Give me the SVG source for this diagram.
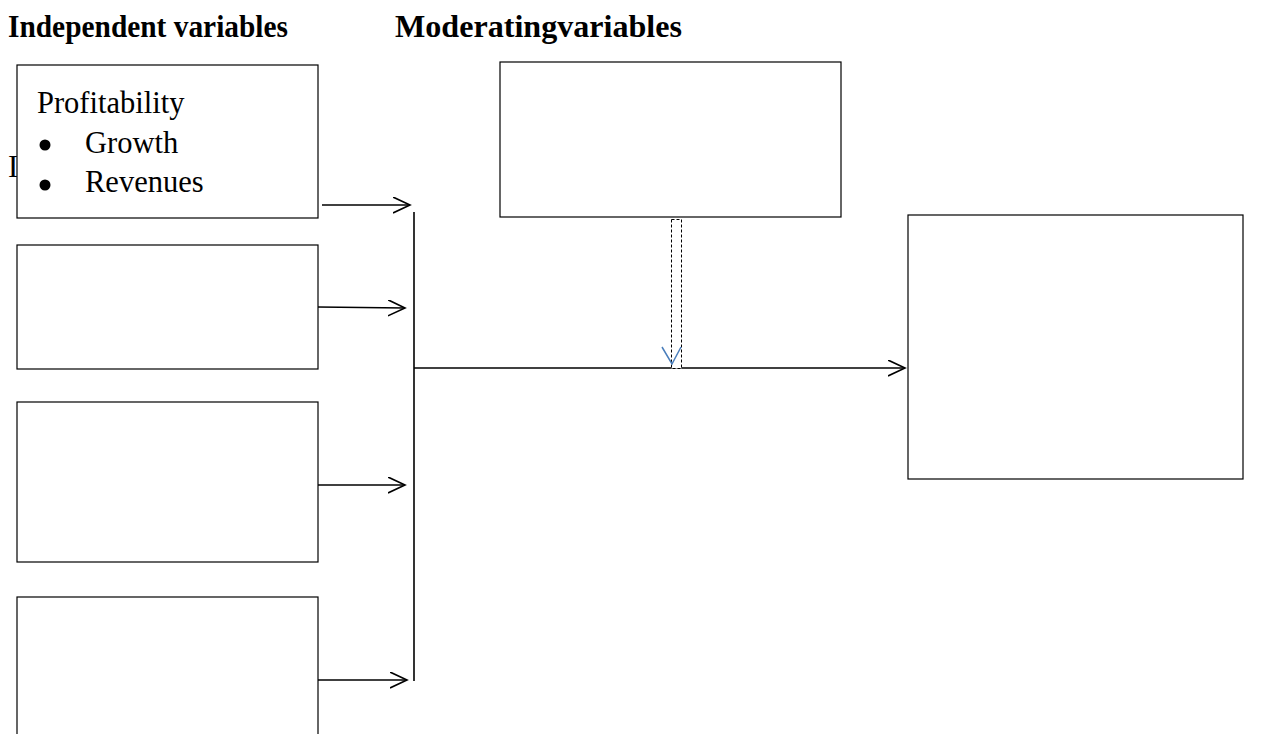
<svg xmlns="http://www.w3.org/2000/svg" width="1272" height="734" viewBox="0 0 1272 734">
<style>
.box{fill:#fff;stroke:#000;stroke-width:1.2}
.hd{font-family:"Liberation Serif","Times New Roman",serif;font-weight:bold;font-size:32px}
.tx{font-family:"Liberation Serif","Times New Roman",serif;font-size:30.5px}
.ln{stroke:#000;stroke-width:1.6;fill:none}
</style>
<defs>
<marker id="ah" markerWidth="20" markerHeight="20" refX="17" refY="8" orient="auto" markerUnits="userSpaceOnUse">
<path d="M0,0 L17,8 L0,16" fill="none" stroke="#000" stroke-width="1.6"/>
</marker>
</defs>
<rect width="1272" height="734" fill="#fff"/>
<text class="hd" x="8" y="37" textLength="280" lengthAdjust="spacingAndGlyphs">Independent variables</text>
<text class="hd" x="395" y="37" textLength="287" lengthAdjust="spacingAndGlyphs">Moderatingvariables</text>
<text class="tx" x="8" y="177">I</text>
<g id="connectors">
<line class="ln" x1="414" y1="212" x2="414" y2="681"/>
<line class="ln" x1="322" y1="205" x2="410" y2="205" marker-end="url(#ah)"/>
<line class="ln" x1="318" y1="307" x2="405" y2="308" marker-end="url(#ah)"/>
<line class="ln" x1="318" y1="485" x2="405" y2="485" marker-end="url(#ah)"/>
<line class="ln" x1="318" y1="680" x2="407" y2="680" marker-end="url(#ah)"/>
<line class="ln" x1="414" y1="368" x2="905" y2="368" marker-end="url(#ah)"/>
<rect x="671.5" y="219.5" width="10" height="149" fill="#fff" stroke="#000" stroke-width="1" stroke-dasharray="3,2"/>
<path d="M662,347 L672,364 L681,347" fill="none" stroke="#4a7ebb" stroke-width="1.5"/>
</g>
<g id="n1">
<rect class="box" x="17" y="65" width="301" height="153"/>
<text class="tx" x="37" y="113">Profitability</text>
<circle cx="45" cy="145" r="5.5" fill="#000"/>
<text class="tx" x="85" y="153">Growth</text>
<circle cx="45" cy="185" r="5.5" fill="#000"/>
<text class="tx" x="85" y="192">Revenues</text>
</g>
<g id="n2"><rect class="box" x="17" y="245" width="301" height="124"/></g>
<g id="n3"><rect class="box" x="17" y="402" width="301" height="160"/></g>
<g id="n4"><rect class="box" x="17" y="597" width="301" height="150"/></g>
<g id="n5"><rect class="box" x="500" y="62" width="341" height="155"/></g>
<g id="n6"><rect class="box" x="908" y="215" width="335" height="264"/></g>
</svg>
